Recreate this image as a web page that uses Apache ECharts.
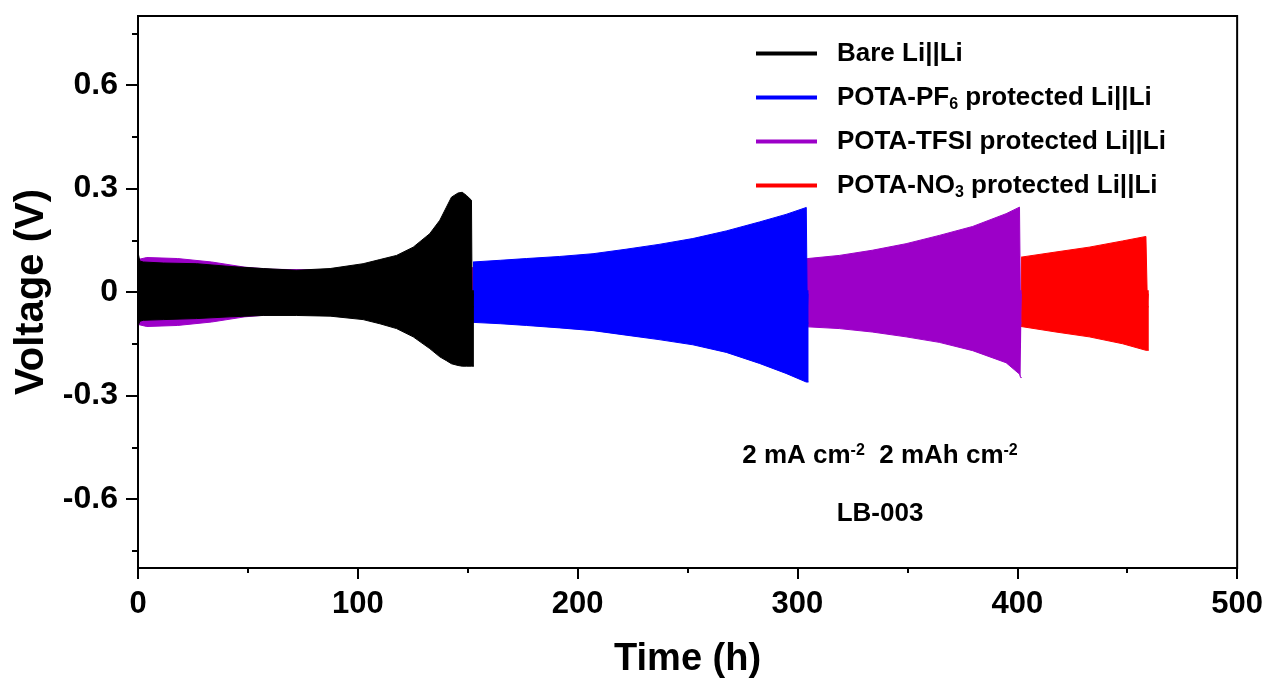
<!DOCTYPE html>
<html>
<head>
<meta charset="utf-8">
<script src="https://cdn.jsdelivr.net/npm/echarts@6/dist/echarts.min.js"></script>
<style>
html,body{margin:0;padding:0;background:#fff;}
#chart{width:1266px;height:688px;}
</style>
</head>
<body>
<div id="chart"></div>
<script>
// ---- data ----
// voltage envelopes: upper (hi) and lower (lo) limits of the dense galvanostatic oscillation
const bareT  = [0, 0.8, 2.4, 11.5, 26.7, 41.9, 57, 72, 87.4, 102.4, 110, 117.6, 125.2, 132.7, 137.3, 140.3, 142.6, 145.6, 147.5, 149.4, 151.7, 152.0, 152.8];
const bareHi = [0.115, 0.09, 0.087, 0.084, 0.082, 0.074, 0.068, 0.063, 0.068, 0.082, 0.094, 0.106, 0.130, 0.169, 0.208, 0.246, 0.275, 0.287, 0.289, 0.280, 0.266, -0.043, -0.043];
const bareLo = [-0.10, -0.085, -0.082, -0.080, -0.077, -0.072, -0.068, -0.068, -0.070, -0.080, -0.092, -0.106, -0.130, -0.164, -0.188, -0.199, -0.208, -0.213, -0.215, -0.215, -0.215, -0.215, -0.215];

const pf6T  = [152.4, 165, 176.7, 191.8, 207, 222, 237, 252.4, 267.6, 282.7, 294.8, 304, 304.5, 305];
const pf6Hi = [0.087, 0.092, 0.097, 0.103, 0.111, 0.124, 0.138, 0.155, 0.177, 0.203, 0.225, 0.245, -0.09, -0.09];
const pf6Lo = [-0.088, -0.092, -0.097, -0.104, -0.112, -0.125, -0.138, -0.153, -0.175, -0.207, -0.236, -0.261, -0.261, -0.261];

const tfsiT  = [0, 4, 18, 33.5, 48.6, 60, 100, 150, 200, 250, 300, 304.7, 319, 334, 349.4, 364.5, 379.7, 394.9, 401, 401.5, 402];
const tfsiHi = [0.094, 0.10, 0.097, 0.087, 0.072, 0.066, 0.062, 0.07, 0.08, 0.088, 0.095, 0.097, 0.106, 0.121, 0.140, 0.164, 0.190, 0.227, 0.246, -0.09, -0.09];
const tfsiLo = [-0.094, -0.10, -0.097, -0.087, -0.072, -0.066, -0.062, -0.07, -0.08, -0.09, -0.098, -0.101, -0.106, -0.116, -0.130, -0.146, -0.170, -0.205, -0.238, -0.248, -0.248];

const no3T  = [401.7, 417.6, 432.7, 447.9, 458.5, 459.2, 459.8];
const no3Hi = [0.101, 0.116, 0.130, 0.148, 0.161, -0.043, -0.043];
const no3Lo = [-0.100, -0.116, -0.130, -0.150, -0.169, -0.169, -0.169];

const seriesNames = ['Bare Li||Li', 'POTA-PF6 protected Li||Li', 'POTA-TFSI protected Li||Li', 'POTA-NO3 protected Li||Li'];
const seriesColors = ['#000000', '#0000ff', '#9c00c8', '#ff0000'];

const xTicks = [0, 100, 200, 300, 400, 500];
const yMajorTicks = [-0.6, -0.3, 0, 0.3, 0.6];
const yMinorTicks = [-0.75, -0.45, -0.15, 0.15, 0.45, 0.75];

const annotation1 = '2 mA cm{sup|-2}  2 mAh cm{sup|-2}';
const annotation2 = 'LB-003';

// ---- chart ----
const FONT = '"Liberation Sans", Arial, Helvetica, sans-serif';

// each band = upper envelope filled down to 0 + lower envelope filled up to 0
function band(name, color, t, hi, lo, z) {
  const common = {
    type: 'line', symbol: 'none', silent: true, z: z,
    itemStyle: { color: color },
    lineStyle: { width: 1, color: color }
  };
  return [
    Object.assign({}, common, {
      name: name,
      data: t.map((x, i) => [x, hi[i]]),
      areaStyle: { color: color, opacity: 1, origin: -0.005 }
    }),
    Object.assign({}, common, {
      name: name,
      data: t.map((x, i) => [x, lo[i]]),
      areaStyle: { color: color, opacity: 1, origin: 0.005 }
    })
  ];
}

const series = [].concat(
  band(seriesNames[3], seriesColors[3], no3T, no3Hi, no3Lo, 2),
  band(seriesNames[2], seriesColors[2], tfsiT, tfsiHi, tfsiLo, 3),
  band(seriesNames[1], seriesColors[1], pf6T, pf6Hi, pf6Lo, 4),
  band(seriesNames[0], seriesColors[0], bareT, bareHi, bareLo, 5)
);

const axisLineStyle = { color: '#000', width: 2 };

const option = {
  animation: false,
  backgroundColor: '#fff',
  grid: { left: 138, right: 28, top: 16, bottom: 120, show: true, borderColor: '#000', borderWidth: 2, backgroundColor: 'transparent' },
  legend: {
    data: seriesNames,
    orient: 'vertical',
    left: 751, top: 33,
    icon: 'rect', itemWidth: 61, itemHeight: 4, itemGap: 13,
    itemStyle: { borderWidth: 0 },
    selectedMode: false,
    formatter: function (n) {
      return n.replace('PF6', 'PF{s|6}').replace('NO3', 'NO{s|3}');
    },
    textStyle: {
      fontFamily: FONT, fontSize: 26, fontWeight: 'bold', color: '#000', lineHeight: 31,
      padding: [0, 0, 0, 15],
      rich: { s: { fontFamily: FONT, fontSize: 16, fontWeight: 'bold', color: '#000', verticalAlign: 'bottom', lineHeight: 16 } }
    }
  },
  xAxis: {
    type: 'value', min: xTicks[0], max: xTicks[xTicks.length - 1], interval: 100,
    axisLine: { show: true, onZero: false, lineStyle: axisLineStyle },
    axisTick: { show: true, inside: false, length: 11, lineStyle: axisLineStyle },
    minorTick: { show: true, splitNumber: 2, length: 5, lineStyle: axisLineStyle },
    splitLine: { show: false }, minorSplitLine: { show: false },
    axisLabel: { fontFamily: FONT, fontSize: 31, fontWeight: 'bold', color: '#000', margin: 21 },
    name: 'Time (h)', nameLocation: 'middle', nameGap: 73,
    nameTextStyle: { fontFamily: FONT, fontSize: 38, fontWeight: 'bold', color: '#000' }
  },
  yAxis: [
    {
      type: 'value', min: -0.8, max: 0.8, position: 'left',
      axisLine: { show: true, onZero: false, lineStyle: axisLineStyle },
      axisTick: { show: true, inside: false, length: 12, customValues: yMajorTicks, lineStyle: axisLineStyle },
      axisLabel: {
        customValues: yMajorTicks, fontFamily: FONT, fontSize: 32, fontWeight: 'bold', color: '#000', margin: 20,
        formatter: function (v) { return Math.abs(v) < 1e-9 ? '0' : v.toFixed(1); }
      },
      splitLine: { show: false },
      name: 'Voltage (V)', nameLocation: 'middle', nameGap: 86,
      nameTextStyle: { fontFamily: FONT, fontSize: 40, fontWeight: 'bold', color: '#000' }
    },
    {
      type: 'value', min: -0.8, max: 0.8, position: 'left',
      axisLine: { show: false },
      axisTick: { show: true, inside: false, length: 6, customValues: yMinorTicks, lineStyle: axisLineStyle },
      axisLabel: { show: false },
      splitLine: { show: false }
    }
  ],
  graphic: [
    {
      type: 'text', x: 880, y: 456, z: 100,
      style: {
        text: annotation1, align: 'center', verticalAlign: 'middle', fill: '#000',
        fontFamily: FONT, fontSize: 26, fontWeight: 'bold',
        rich: { sup: { fontFamily: FONT, fontSize: 16, fontWeight: 'bold', fill: '#000', verticalAlign: 'top', lineHeight: 16 } }
      }
    },
    {
      type: 'text', x: 880, y: 514, z: 100,
      style: { text: annotation2, align: 'center', verticalAlign: 'middle', fill: '#000', fontFamily: FONT, fontSize: 26, fontWeight: 'bold' }
    }
  ],
  series: series
};

const chart = echarts.init(document.getElementById('chart'), null, { renderer: 'canvas' });
chart.setOption(option);
</script>
</body>
</html>
